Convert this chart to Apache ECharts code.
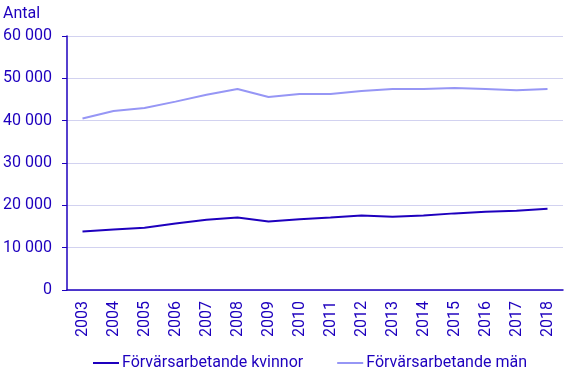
<!DOCTYPE html>
<html><head><meta charset="utf-8">
<script src="https://cdn.jsdelivr.net/npm/echarts@6/dist/echarts.min.js"></script>
<style>html,body{margin:0;padding:0;background:#fff}#c{width:568px;height:374px}</style>
</head><body><div id="c"></div>
<script>
var years = ['2003','2004','2005','2006','2007','2008','2009','2010','2011','2012','2013','2014','2015','2016','2017','2018'];
var kvinnor = [13800,14300,14700,15700,16600,17100,16200,16700,17100,17600,17300,17600,18100,18500,18700,19200];
var man = [40500,42300,43000,44500,46100,47500,45600,46300,46300,47000,47500,47500,47700,47500,47200,47500];
var yTicks = [0,10000,20000,30000,40000,50000,60000];
var txt = '#1e00be';
var chart = echarts.init(document.getElementById('c'));
chart.setOption({
  animation:false,
  textStyle:{fontFamily:'Roboto'},
  title:{text:'Antal',left:-2,top:1,textStyle:{color:txt,fontSize:16,fontWeight:'normal',fontFamily:'Roboto'}},
  grid:{left:67,right:5,top:36,bottom:84,containLabel:false},
  legend:{bottom:-2,left:88,itemWidth:26,itemHeight:2,itemGap:34,icon:'rect',
    textStyle:{color:txt,fontSize:16,fontFamily:'Roboto',padding:[0,0,0,-2]},
    data:['Förvärsarbetande kvinnor','Förvärsarbetande män']},
  xAxis:{type:'category',data:years,boundaryGap:true,
    axisLine:{lineStyle:{color:txt,width:1.5}},
    axisTick:{lineStyle:{color:txt},length:6,alignWithLabel:false},
    axisLabel:{rotate:90,color:txt,fontSize:16,margin:11}},
  yAxis:{type:'value',min:yTicks[0],max:yTicks[yTicks.length-1],interval:10000,
    axisLine:{show:true,lineStyle:{color:txt,width:1.5}},
    axisTick:{show:true,length:5,lineStyle:{color:txt}},
    splitLine:{lineStyle:{color:'#d2d2f0'}},
    axisLabel:{color:txt,fontSize:16,margin:15,formatter:function(v){return String(v).replace(/\B(?=(\d{3})+(?!\d))/g,' ');}}},
  series:[
    {name:'Förvärsarbetande kvinnor',type:'line',data:kvinnor,symbol:'none',lineStyle:{color:'#1e00be',width:2},itemStyle:{color:'#1e00be'}},
    {name:'Förvärsarbetande män',type:'line',data:man,symbol:'none',lineStyle:{color:'#9696f5',width:2},itemStyle:{color:'#9696f5'}}
  ]
});
</script></body></html>
